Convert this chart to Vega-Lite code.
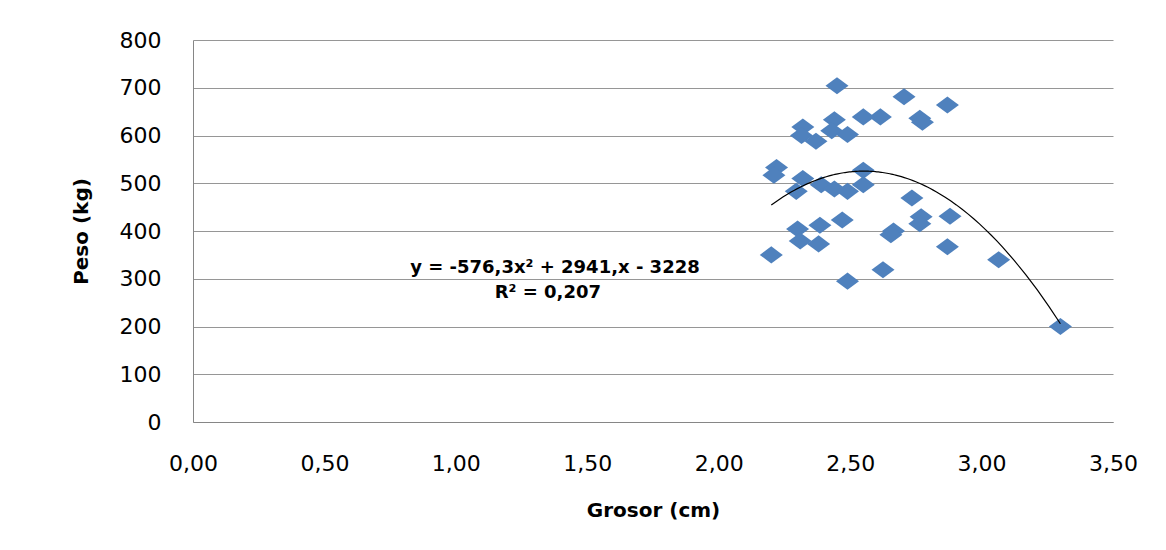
{
  "$schema": "https://vega.github.io/schema/vega-lite/v6.json",
  "width": 920,
  "height": 382,
  "autosize": {"type": "none"},
  "padding": {"left": 193, "top": 40, "right": 53, "bottom": 128},
  "background": "white",
  "config": {
    "view": {"stroke": null},
    "font": "DejaVu Sans",
    "locale": {"number": {"decimal": ",", "thousands": ".", "grouping": [3], "currency": ["", " €"]}}
  },
  "datasets": {
    "pts": [
      {"Grosor": 2.45, "Peso": 704},
      {"Grosor": 2.705, "Peso": 681},
      {"Grosor": 2.87, "Peso": 664},
      {"Grosor": 2.765, "Peso": 636},
      {"Grosor": 2.775, "Peso": 628},
      {"Grosor": 2.615, "Peso": 639},
      {"Grosor": 2.55, "Peso": 639},
      {"Grosor": 2.44, "Peso": 633},
      {"Grosor": 2.32, "Peso": 618},
      {"Grosor": 2.315, "Peso": 600},
      {"Grosor": 2.37, "Peso": 588},
      {"Grosor": 2.43, "Peso": 610},
      {"Grosor": 2.49, "Peso": 602},
      {"Grosor": 2.22, "Peso": 533},
      {"Grosor": 2.21, "Peso": 517},
      {"Grosor": 2.32, "Peso": 510},
      {"Grosor": 2.55, "Peso": 527},
      {"Grosor": 2.295, "Peso": 483},
      {"Grosor": 2.39, "Peso": 497},
      {"Grosor": 2.44, "Peso": 488},
      {"Grosor": 2.49, "Peso": 483},
      {"Grosor": 2.55, "Peso": 497},
      {"Grosor": 2.735, "Peso": 469},
      {"Grosor": 2.77, "Peso": 430},
      {"Grosor": 2.765, "Peso": 415},
      {"Grosor": 2.88, "Peso": 431},
      {"Grosor": 2.47, "Peso": 423},
      {"Grosor": 2.385, "Peso": 412},
      {"Grosor": 2.3, "Peso": 404},
      {"Grosor": 2.665, "Peso": 400},
      {"Grosor": 2.655, "Peso": 392},
      {"Grosor": 2.31, "Peso": 379},
      {"Grosor": 2.38, "Peso": 373},
      {"Grosor": 2.2, "Peso": 350},
      {"Grosor": 2.49, "Peso": 295},
      {"Grosor": 2.625, "Peso": 319},
      {"Grosor": 2.87, "Peso": 367},
      {"Grosor": 3.065, "Peso": 340},
      {"Grosor": 3.3, "Peso": 200}
    ],
    "eq": [
      {"label": "y = -576,3x² + 2941,x - 3228", "gx": 1.377, "py": 322},
      {"label": "R² = 0,207", "gx": 1.35, "py": 271}
    ]
  },
  "layer": [
    {
      "data": {"name": "pts"},
      "mark": {"type": "point", "shape": "M-1,0L0,-0.74L1,0L0,0.74Z", "filled": true, "color": "#4F81BD", "opacity": 1, "size": 530, "strokeWidth": 0},
      "encoding": {
        "x": {
          "field": "Grosor", "type": "quantitative",
          "scale": {"domain": [0, 3.5], "nice": false},
          "axis": {
            "title": "Grosor (cm)", "values": [0, 0.5, 1, 1.5, 2, 2.5, 3, 3.5], "format": ".2f",
            "grid": false, "ticks": false, "domainColor": "#868686", "domainWidth": 1,
            "labelFlush": false, "labelOverlap": false,
            "labelPadding": 31, "labelFontSize": 22, "labelColor": "#000000",
            "titleFontSize": 20, "titleFontWeight": "bold", "titleColor": "#000000", "titlePadding": 26
          }
        },
        "y": {
          "field": "Peso", "type": "quantitative",
          "scale": {"domain": [0, 800], "nice": false},
          "axis": {
            "title": "Peso (kg)", "values": [0, 100, 200, 300, 400, 500, 600, 700, 800], "format": "d",
            "grid": true, "gridColor": "#969696", "gridWidth": 1, "ticks": false,
            "domainColor": "#868686", "domainWidth": 1,
            "labelFlush": false, "labelOverlap": false,
            "labelPadding": 32, "labelFontSize": 22, "labelColor": "#000000",
            "titleFontSize": 20, "titleFontWeight": "bold", "titleColor": "#000000", "titlePadding": 28
          }
        }
      }
    },
    {
      "data": {"name": "pts"},
      "transform": [{"regression": "Peso", "on": "Grosor", "method": "poly", "order": 2}],
      "mark": {"type": "line", "color": "#000000", "strokeWidth": 1.2},
      "encoding": {
        "x": {"field": "Grosor", "type": "quantitative"},
        "y": {"field": "Peso", "type": "quantitative"}
      }
    },
    {
      "data": {"name": "eq"},
      "mark": {"type": "text", "fontSize": 18, "fontWeight": "bold", "color": "#000000", "align": "center", "baseline": "middle"},
      "encoding": {
        "x": {"field": "gx", "type": "quantitative"},
        "y": {"field": "py", "type": "quantitative"},
        "text": {"field": "label"}
      }
    }
  ]
}
